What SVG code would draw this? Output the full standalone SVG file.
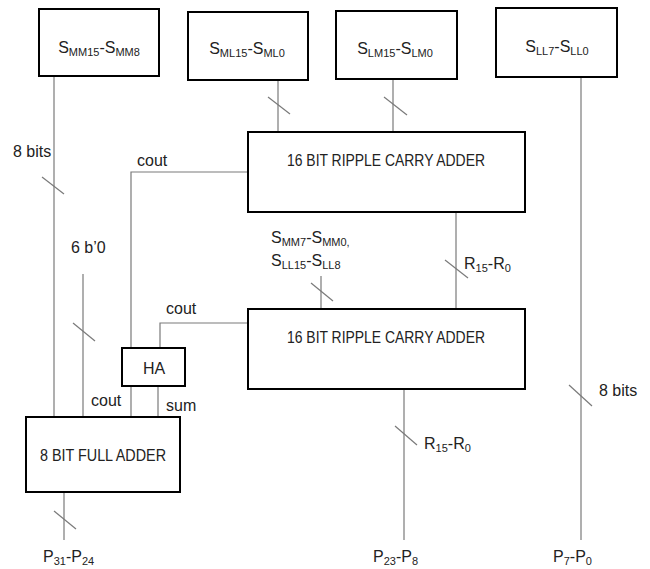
<svg xmlns="http://www.w3.org/2000/svg" width="650" height="569" viewBox="0 0 650 569">
<style>
.box{fill:#fff;stroke:#000;stroke-width:2}
.w{fill:none;stroke:#7a7a7a;stroke-width:1.2}
.s{fill:none;stroke:#7a7a7a;stroke-width:1.2}
text{font-family:"Liberation Sans",Arial,sans-serif;fill:#222;font-size:16px}
.sub{font-size:11px}
</style>
<rect width="650" height="569" fill="#fff"/>
<g id="connectors">
<line class="w" x1="54" y1="77" x2="54" y2="417"/>
<line class="s" x1="42" y1="177" x2="64" y2="194"/>
<line class="w" x1="278" y1="80" x2="278" y2="132"/>
<line class="s" x1="268" y1="97" x2="290" y2="114"/>
<line class="w" x1="393" y1="79" x2="393" y2="132" stroke="#333"/>
<line class="s" x1="384" y1="97" x2="407" y2="115"/>
<line class="w" x1="581" y1="77" x2="581" y2="540"/>
<line class="s" x1="569" y1="385" x2="592" y2="406"/>
<polyline class="w" points="248,172 131,172 131,417"/>
<polyline class="w" points="248,323 160,323 160,348"/>
<line class="w" x1="158" y1="386" x2="158" y2="417"/>
<line class="w" x1="83" y1="274" x2="83" y2="417"/>
<line class="s" x1="73" y1="323" x2="95" y2="341"/>
<line class="w" x1="64" y1="492" x2="64" y2="540"/>
<line class="s" x1="54" y1="511" x2="76" y2="529"/>
<line class="w" x1="321" y1="276" x2="321" y2="309"/>
<line class="s" x1="311" y1="283" x2="333" y2="301"/>
<line class="w" x1="456" y1="212" x2="456" y2="309"/>
<line class="s" x1="445" y1="260" x2="468" y2="278"/>
<line class="w" x1="404" y1="389" x2="404" y2="540"/>
<line class="s" x1="395" y1="426" x2="417" y2="445"/>
</g>
<g id="smm">
<rect class="box" x="39" y="9" width="120" height="67"/>
<text x="99" y="53" text-anchor="middle">S<tspan class="sub" dy="3">MM15</tspan><tspan dy="-3">-S</tspan><tspan class="sub" dy="3">MM8</tspan></text>
</g>
<g id="sml">
<rect class="box" x="188" y="12" width="120" height="68"/>
<text x="247" y="54" text-anchor="middle">S<tspan class="sub" dy="3">ML15</tspan><tspan dy="-3">-S</tspan><tspan class="sub" dy="3">ML0</tspan></text>
</g>
<g id="slm">
<rect class="box" x="336" y="11" width="121" height="68"/>
<text x="395" y="54" text-anchor="middle">S<tspan class="sub" dy="3">LM15</tspan><tspan dy="-3">-S</tspan><tspan class="sub" dy="3">LM0</tspan></text>
</g>
<g id="sll">
<rect class="box" x="496" y="8" width="121" height="69"/>
<text x="557" y="52" text-anchor="middle">S<tspan class="sub" dy="3">LL7</tspan><tspan dy="-3">-S</tspan><tspan class="sub" dy="3">LL0</tspan></text>
</g>
<g id="rca1">
<rect class="box" x="248" y="132" width="277" height="80"/>
<text x="287" y="166" textLength="198" lengthAdjust="spacingAndGlyphs">16 BIT RIPPLE CARRY ADDER</text>
</g>
<g id="rca2">
<rect class="box" x="248" y="309" width="277" height="80"/>
<text x="287" y="343" textLength="198" lengthAdjust="spacingAndGlyphs">16 BIT RIPPLE CARRY ADDER</text>
</g>
<g id="ha">
<rect class="box" x="122" y="348" width="63" height="38"/>
<text x="154" y="374" text-anchor="middle">HA</text>
</g>
<g id="fa">
<rect class="box" x="26" y="417" width="154" height="75"/>
<text x="40" y="461" textLength="126" lengthAdjust="spacingAndGlyphs">8 BIT FULL ADDER</text>
</g>
<g id="labels">
<text x="13" y="157">8 bits</text>
<text x="137" y="166">cout</text>
<text x="71" y="253">6 b’0</text>
<text x="271" y="243">S<tspan class="sub" dy="3">MM7</tspan><tspan dy="-3">-S</tspan><tspan class="sub" dy="3">MM0,</tspan></text>
<text x="271" y="266">S<tspan class="sub" dy="3" font-size="10">LL15</tspan><tspan dy="-3">-S</tspan><tspan class="sub" dy="3" font-size="10">LL8</tspan></text>
<text x="464" y="269">R<tspan class="sub" dy="3">15</tspan><tspan dy="-3">-R</tspan><tspan class="sub" dy="3">0</tspan></text>
<text x="166" y="314">cout</text>
<text x="91" y="406">cout</text>
<text x="166" y="411">sum</text>
<text x="599" y="396">8 bits</text>
<text x="424" y="449">R<tspan class="sub" dy="3">15</tspan><tspan dy="-3">-R</tspan><tspan class="sub" dy="3">0</tspan></text>
<text x="43" y="562">P<tspan class="sub" dy="3">31</tspan><tspan dy="-3">-P</tspan><tspan class="sub" dy="3">24</tspan></text>
<text x="373" y="562">P<tspan class="sub" dy="3">23</tspan><tspan dy="-3">-P</tspan><tspan class="sub" dy="3">8</tspan></text>
<text x="553" y="562">P<tspan class="sub" dy="3">7</tspan><tspan dy="-3">-P</tspan><tspan class="sub" dy="3">0</tspan></text>
</g>
</svg>
